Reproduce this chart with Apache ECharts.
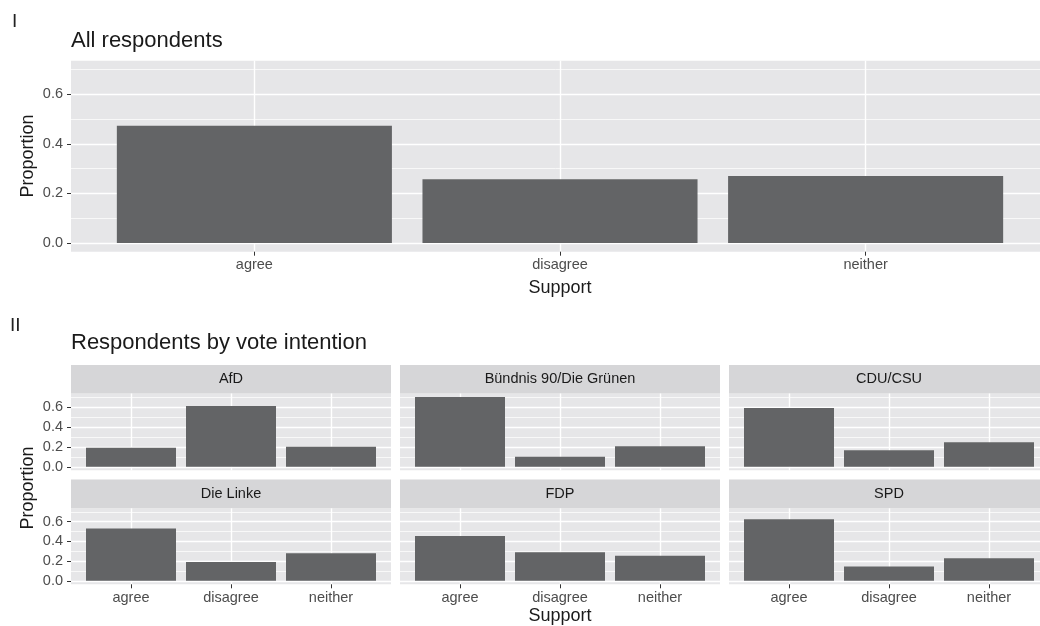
<!DOCTYPE html>
<html>
<head>
<meta charset="utf-8">
<script src="https://cdn.jsdelivr.net/npm/echarts@6/dist/echarts.min.js"></script>
<style>
  html, body { margin: 0; padding: 0; background: #fff; }
  #chart { width: 1040px; height: 626px; }
</style>
</head>
<body>
<div id="chart"></div>
<script>
// data
var categories = ['agree', 'disagree', 'neither'];
var allRespondents = [0.473, 0.257, 0.270];

var parties = ['AfD', 'Bündnis 90/Die Grünen', 'CDU/CSU', 'Die Linke', 'FDP', 'SPD'];
var afd    = [0.19, 0.61, 0.20];
var gruene = [0.70, 0.10, 0.205];
var cdu    = [0.59, 0.165, 0.245];
var linke  = [0.53, 0.19, 0.28];
var fdp    = [0.455, 0.29, 0.255];
var spd    = [0.625, 0.145, 0.23];
var partyValues = [afd, gruene, cdu, linke, fdp, spd];

var yMajor = [0, 0.2, 0.4, 0.6];
var yMinor = [0.1, 0.3, 0.5, 0.7];

var FONT = '"Liberation Sans", Arial, sans-serif';
var PANEL_BG = '#e6e6e8';
var STRIP_BG = '#d6d6d8';
var BAR = '#636466';
var CANVAS_W = 1040;

var grids = [], xAxes = [], yAxes = [], series = [], graphics = [];

// one ggplot-like panel: x axis 0.4..3.6 (discrete expand 0.6), y -0.035..0.735
// the original figure is cut at the right edge, so the last column is cropped
function addPanel(box, values, showX, showY) {
    var gi = grids.length;
    var unit = box.width / 3.2;
    var visW = Math.min(box.width, CANVAS_W - box.left);
    grids.push({
        left: box.left, top: box.top, width: visW, height: box.height,
        show: true, backgroundColor: PANEL_BG, borderWidth: 0, containLabel: false
    });
    xAxes.push({
        type: 'value', gridIndex: gi, min: 0.4, max: 0.4 + visW / unit,
        axisLine: {show: false, onZero: false},
        axisTick: {show: showX, length: 4, customValues: [1, 2, 3], lineStyle: {color: '#333', width: 1}},
        axisLabel: {
            show: showX, customValues: [1, 2, 3], margin: 6,
            color: '#4d4d4d', fontSize: 14.5, fontFamily: FONT,
            formatter: function (v) { return categories[Math.round(v) - 1]; }
        },
        splitLine: {show: true, lineStyle: {color: '#fff', width: 1.4}}
    });
    yAxes.push({
        type: 'value', gridIndex: gi, min: -0.035, max: 0.735,
        axisLine: {show: false, onZero: false},
        axisTick: {show: showY, length: 4, customValues: yMajor, lineStyle: {color: '#333', width: 1}},
        axisLabel: {
            show: showY, customValues: yMajor, margin: 8,
            color: '#4d4d4d', fontSize: 14.5, fontFamily: FONT,
            formatter: function (v) { return v.toFixed(1); }
        },
        splitLine: {show: true, lineStyle: {color: '#fff', width: 1.4}}
    });
    // minor grid lines
    yAxes.push({
        type: 'value', gridIndex: gi, min: -0.035, max: 0.735, position: 'left',
        axisLine: {show: false, onZero: false},
        axisTick: {show: false, customValues: yMinor},
        axisLabel: {show: false, customValues: yMinor},
        splitLine: {show: true, lineStyle: {color: '#fff', width: 0.7}}
    });
    series.push({
        type: 'bar', xAxisIndex: gi, yAxisIndex: yAxes.length - 2,
        barWidth: unit * 0.9,
        itemStyle: {color: BAR},
        silent: true,
        data: categories.map(function (c, i) { return [i + 1, values[i]]; })
    });
}

// panel I
addPanel({left: 71, top: 60.7, width: 978, height: 191}, allRespondents, true, true);

// panel II facets
var colLeft = [71, 400, 729];
var stripTop = [365, 479.5];
var stripH = [28.5, 28.8];
var panelTop = [393.5, 508.3];
var panelH = [76.8, 76];
parties.forEach(function (p, k) {
    var r = Math.floor(k / 3), c = k % 3;
    graphics.push({
        type: 'rect', shape: {x: colLeft[c], y: stripTop[r], width: 320, height: stripH[r]},
        style: {fill: STRIP_BG}, silent: true
    });
    graphics.push({
        type: 'text', x: colLeft[c] + 160, y: stripTop[r] + stripH[r] / 2,
        style: {text: p, font: '14.5px ' + FONT, fill: '#1a1a1a', align: 'center', verticalAlign: 'middle'}
    });
    addPanel({left: colLeft[c], top: panelTop[r], width: 320, height: panelH[r]}, partyValues[k], r === 1, c === 0);
});

// titles, tags, axis titles
function txt(s, x, y, size, color, extra) {
    var o = {type: 'text', x: x, y: y, style: {text: s, font: size + 'px ' + FONT, fill: color, align: 'left', verticalAlign: 'middle'}};
    if (extra) { for (var k in extra) o[k] = extra[k]; }
    return o;
}
graphics.push(txt('I', 12, 21.5, 19, '#222'));
graphics.push(txt('All respondents', 71, 41, 22, '#1a1a1a'));
graphics.push(txt('II', 10, 326, 19, '#222'));
graphics.push(txt('Respondents by vote intention', 71, 343, 22, '#1a1a1a'));

var sup1 = txt('Support', 560, 288, 18, '#1a1a1a'); sup1.style.align = 'center';
var sup2 = txt('Support', 560, 616, 18, '#1a1a1a'); sup2.style.align = 'center';
graphics.push(sup1, sup2);
var prop1 = txt('Proportion', 28, 156, 18, '#1a1a1a', {rotation: Math.PI / 2}); prop1.style.align = 'center';
var prop2 = txt('Proportion', 28, 488, 18, '#1a1a1a', {rotation: Math.PI / 2}); prop2.style.align = 'center';
graphics.push(prop1, prop2);

var option = {
    animation: false,
    backgroundColor: '#fff',
    grid: grids,
    xAxis: xAxes,
    yAxis: yAxes,
    series: series,
    graphic: graphics
};

var myChart = echarts.init(document.getElementById('chart'), null, {renderer: 'canvas'});
myChart.setOption(option, true);
window.addEventListener('resize', function () { myChart.resize(); });
</script>
</body>
</html>
